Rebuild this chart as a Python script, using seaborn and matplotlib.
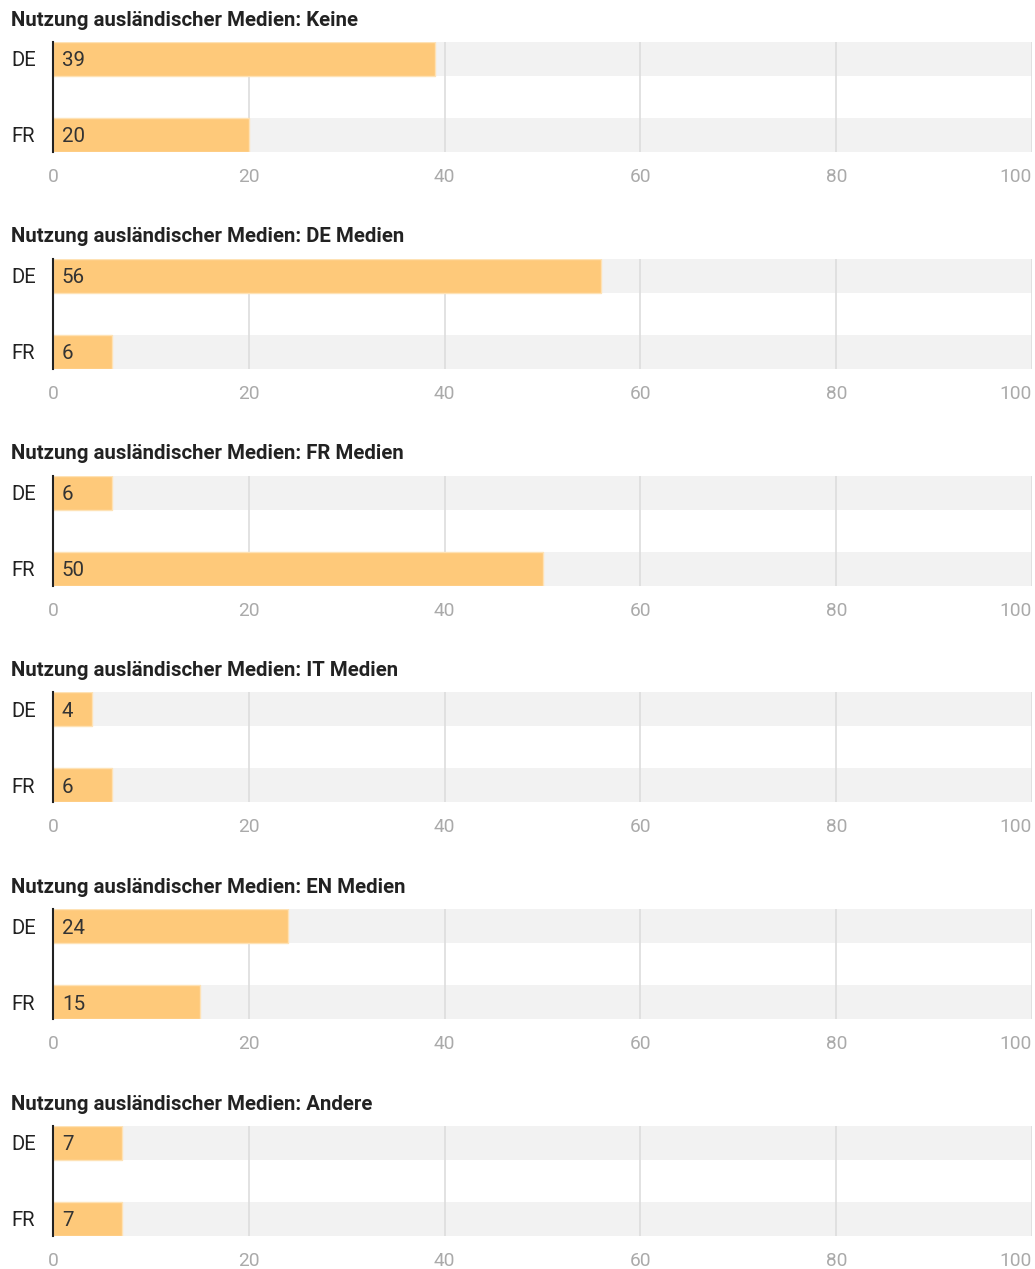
import matplotlib
matplotlib.use("Agg")
import matplotlib.pyplot as plt
import seaborn as sns
import pandas as pd

sns.set_theme(style="white")
plt.rcParams['font.family'] = ['Roboto', 'DejaVu Sans']

titles = ["Nutzung ausländischer Medien: Keine",
          "Nutzung ausländischer Medien: DE Medien",
          "Nutzung ausländischer Medien: FR Medien",
          "Nutzung ausländischer Medien: IT Medien",
          "Nutzung ausländischer Medien: EN Medien",
          "Nutzung ausländischer Medien: Andere"]
countries = ["DE", "FR"]
de_values = [39, 56, 6, 4, 24, 7]
fr_values = [20, 6, 50, 6, 15, 7]
x_ticks = [0, 20, 40, 60, 80, 100]

W, H = 1035, 1269
fig = plt.figure(figsize=(W / 100, H / 100), dpi=100)

bar_color = "#fec97a"
bg_color = "#f2f2f2"
grid_color = "#dddddd"
panel_step = 216.8
bar_w = 34 / 76

for i, title in enumerate(titles):
    top = 42 + i * panel_step
    bottom = top + 110
    ax = fig.add_axes([53 / W, 1 - bottom / H, 979 / W, 110 / H])
    df = pd.DataFrame({"country": countries, "value": [de_values[i], fr_values[i]],
                       "full": [100, 100]})
    sns.barplot(data=df, y="country", x="full", orient="h", color=bg_color,
                width=bar_w, saturation=1, ax=ax, zorder=1, linewidth=0)
    for xv in x_ticks[1:]:
        ax.axvline(xv, color=grid_color, lw=1.2, zorder=2)
    sns.barplot(data=df, y="country", x="value", orient="h", color=bar_color,
                width=bar_w, saturation=1, ax=ax, zorder=3,
                edgecolor="#fee2b5", linewidth=1)
    for j, v in enumerate(df["value"]):
        ax.text(0.9, j, str(v), va="center_baseline", ha="left", fontsize=14.8,
                color="#333333", zorder=4)
    ax.set_xlim(0, 100)
    ax.set_ylim(0.5 + 0.5 * 110 / 76, 0.5 - 0.5 * 110 / 76)
    ax.set_xlabel("")
    ax.set_ylabel("")
    ax.set_xticks(x_ticks)
    ax.set_xticklabels([str(t) for t in x_ticks], fontsize=13.8, color="#aaaaaa")
    ax.get_xticklabels()[-1].set_ha("right")
    ax.tick_params(axis="x", length=0, pad=11.5)
    ax.tick_params(axis="y", length=0, pad=30)
    for lab in ax.get_yticklabels():
        lab.set_ha("left")
        lab.set_fontsize(14.6)
        lab.set_color("#222222")
    for s in ["top", "right", "bottom"]:
        ax.spines[s].set_visible(False)
    ax.spines["left"].set_color("#222222")
    ax.spines["left"].set_linewidth(1.5)
    ax.spines["left"].set_zorder(5)
    ax.set_facecolor("none")
    fig.text(11 / W, 1 - (20 + i * panel_step) / H, title, fontsize=14.7,
             fontweight="bold", color="#222222", va="center", ha="left")

fig.savefig("out.png", dpi=100)
